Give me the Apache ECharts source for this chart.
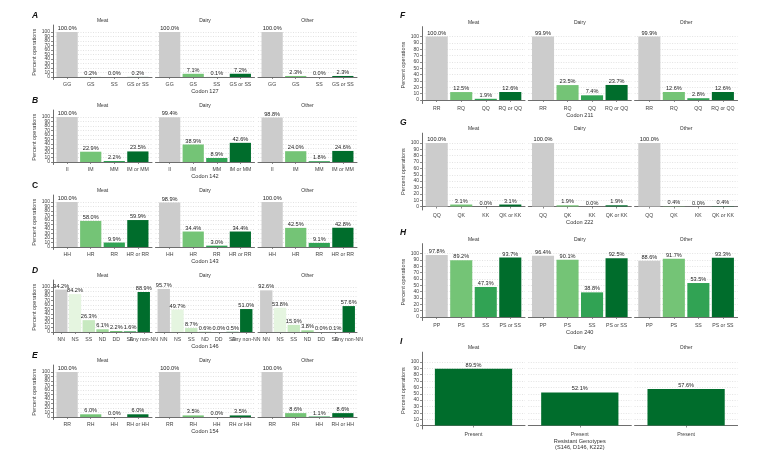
<!DOCTYPE html>
<html><head><meta charset="utf-8">
<script src="https://cdn.jsdelivr.net/npm/echarts@6/dist/echarts.min.js"></script>
<style>html,body{margin:0;padding:0;background:#fff}#c{width:781px;height:465px}</style>
</head><body><div id="c"></div>
<script>
const facets = ['Meat', 'Dairy', 'Other'];
const yTicks = [0, 10, 20, 30, 40, 50, 60, 70, 80, 90, 100];

const catsA = ['GG', 'GS', 'SS', 'GS or SS'];
const meatA = [100.0, 0.2, 0.0, 0.2];
const dairyA = [100.0, 7.1, 0.1, 7.2];
const otherA = [100.0, 2.3, 0.0, 2.3];

const catsB = ['II', 'IM', 'MM', 'IM or MM'];
const meatB = [100.0, 22.9, 2.2, 23.5];
const dairyB = [99.4, 38.9, 8.9, 42.6];
const otherB = [98.8, 24.0, 1.8, 24.6];

const catsC = ['HH', 'HR', 'RR', 'HR or RR'];
const meatC = [100.0, 58.0, 9.9, 59.9];
const dairyC = [98.9, 34.4, 3.0, 34.4];
const otherC = [100.0, 42.5, 9.1, 42.8];

const catsD = ['NN', 'NS', 'SS', 'ND', 'DD', 'SD', 'Any non-NN'];
const meatD = [94.2, 84.2, 26.3, 6.1, 2.2, 1.6, 88.9];
const dairyD = [95.7, 49.7, 8.7, 0.6, 0.0, 0.5, 51.0];
const otherD = [92.6, 53.8, 15.9, 3.8, 0.0, 0.1, 57.6];

const catsE = ['RR', 'RH', 'HH', 'RH or HH'];
const meatE = [100.0, 6.0, 0.0, 6.0];
const dairyE = [100.0, 3.5, 0.0, 3.5];
const otherE = [100.0, 8.6, 1.1, 8.6];

const catsF = ['RR', 'RQ', 'QQ', 'RQ or QQ'];
const meatF = [100.0, 12.5, 1.9, 12.6];
const dairyF = [99.9, 23.5, 7.4, 23.7];
const otherF = [99.9, 12.6, 2.8, 12.6];

const catsG = ['QQ', 'QK', 'KK', 'QK or KK'];
const meatG = [100.0, 3.1, 0.0, 3.1];
const dairyG = [100.0, 1.9, 0.0, 1.9];
const otherG = [100.0, 0.4, 0.0, 0.4];

const catsH = ['PP', 'PS', 'SS', 'PS or SS'];
const meatH = [97.8, 89.2, 47.3, 93.7];
const dairyH = [96.4, 90.1, 38.8, 92.5];
const otherH = [88.6, 91.7, 53.5, 93.3];

const catsI = ['Present'];
const meatI = [89.5];
const dairyI = [52.1];
const otherI = [57.6];

const colors4 = ['#cccccc', '#74c476', '#31a354', '#006d2c'];
const colorsD = ['#cccccc', '#e5f5e0', '#c7e9c0', '#a1d99b', '#74c476', '#41ab5d', '#006d2c'];
const colorsI = ['#006d2c'];

const panels = [
  {letter: 'A', italic: true, col: 0, y100: 32, cats: catsA, vals: [meatA, dairyA, otherA], colors: colors4, title: 'Codon 127'},
  {letter: 'B', italic: true, col: 0, y100: 117, cats: catsB, vals: [meatB, dairyB, otherB], colors: colors4, title: 'Codon 142'},
  {letter: 'C', italic: false, col: 0, y100: 202, cats: catsC, vals: [meatC, dairyC, otherC], colors: colors4, title: 'Codon 143'},
  {letter: 'D', italic: true, col: 0, y100: 287, cats: catsD, vals: [meatD, dairyD, otherD], colors: colorsD, title: 'Codon 146'},
  {letter: 'E', italic: true, col: 0, y100: 372, cats: catsE, vals: [meatE, dairyE, otherE], colors: colors4, title: 'Codon 154'},
  {letter: 'F', italic: true, col: 1, y100: 36.5, cats: catsF, vals: [meatF, dairyF, otherF], colors: colors4, title: 'Codon 211'},
  {letter: 'G', italic: true, col: 1, y100: 143, cats: catsG, vals: [meatG, dairyG, otherG], colors: colors4, title: 'Codon 222'},
  {letter: 'H', italic: true, col: 1, y100: 253.5, cats: catsH, vals: [meatH, dairyH, otherH], colors: colors4, title: 'Codon 240'},
  {letter: 'I', italic: true, col: 1, y100: 362, cats: catsI, vals: [meatI, dairyI, otherI], colors: colorsI, title: 'Resistant Genotypes\n(S146, D146, K222)'}
];

const cols = [
  {x0: 53, w: 99, gap: 3.5, s: 0.45, letterX: 35, letterDy: 16, stripDy: 11, lblMargin: 2.5, nameGap: 7.5, yNameGap: 13},
  {x0: 422, w: 103, gap: 3.3, s: 0.635, letterX: 403, letterDy: 20, stripDy: 14, lblMargin: 3, nameGap: 9, yNameGap: 13}
];

const YMIN = -5.5, YMAX = 115.5;
const FONT = '"Liberation Sans", Arial, sans-serif';
const AX = '#6e6e6e';
const evenTicks = yTicks.filter((_, i) => i % 2 === 0);
const oddTicks = yTicks.filter((_, i) => i % 2 === 1);

const grid = [], xAxis = [], yAxis = [], series = [], graphic = [];
let gi = 0;
panels.forEach(p => {
  const c = cols[p.col];
  const n = p.cats.length;
  const top = p.y100 - (YMAX - 100) * c.s;
  const height = (YMAX - YMIN) * c.s;
  const bw = 0.9 * c.w / (n + 0.2);
  const xs = p.cats.map((_, i) => i + 1);
  const xsA = xs.filter(v => v % 2 === 1);
  const xsB = xs.filter(v => v % 2 === 0);
  graphic.push({type: 'text', left: c.letterX - 3, top: p.y100 - c.letterDy - 5,
    style: {text: p.letter, font: (p.italic ? 'italic ' : '') + 'bold 8.5px ' + FONT, fill: '#111'}});
  facets.forEach((fname, f) => {
    const left = c.x0 + f * (c.w + c.gap);
    grid.push({left: left, top: top, width: c.w, height: height, containLabel: false});
    graphic.push({type: 'text', x: left + c.w / 2, y: p.y100 - c.stripDy,
      style: {text: fname, font: '5px ' + FONT, fill: '#333', align: 'center', verticalAlign: 'middle'}});
    const xLabel = (vals) => ({show: true, customValues: vals, margin: c.lblMargin, fontSize: 5.2, fontFamily: FONT,
      color: '#444', hideOverlap: false, showMinLabel: true, showMaxLabel: true,
      formatter: v => p.cats[Math.round(v) - 1]});
    const xMain = xAxis.length;
    xAxis.push({
      gridIndex: gi, type: 'value', min: 0.4, max: n + 0.6, position: 'bottom',
      axisLine: {show: true, lineStyle: {color: AX, width: 1}},
      axisTick: {show: true, customValues: xs, length: 2, lineStyle: {color: AX, width: 0.8}},
      axisLabel: xLabel(xsA),
      splitLine: {show: false},
      name: f === 1 ? p.title : '', nameLocation: 'middle', nameGap: c.nameGap,
      nameTextStyle: {fontSize: 5.6, fontFamily: FONT, color: '#333', lineHeight: 6.5}
    });
    if (xsB.length) {
      xAxis.push({
        gridIndex: gi, type: 'value', min: 0.4, max: n + 0.6, position: 'bottom',
        axisLine: {show: false}, axisTick: {show: false}, splitLine: {show: false},
        axisLabel: xLabel(xsB)
      });
    }
    const yMain = yAxis.length;
    yAxis.push({
      gridIndex: gi, type: 'value', min: YMIN, max: YMAX, position: 'left',
      axisLine: {show: f === 0, lineStyle: {color: AX, width: 1}},
      axisTick: {show: f === 0, customValues: yTicks, length: 2, lineStyle: {color: AX, width: 0.8}},
      axisLabel: {show: f === 0, customValues: evenTicks, margin: 3, fontSize: 5, fontFamily: FONT, color: '#444',
        hideOverlap: false, showMinLabel: true, showMaxLabel: true},
      splitLine: {show: true, lineStyle: {color: '#d0d0d0', width: 0.6, type: [1, 1.5]}},
      name: f === 0 ? 'Percent operations' : '', nameLocation: 'middle', nameGap: c.yNameGap, nameRotate: 90,
      nameTextStyle: {fontSize: 5.6, fontFamily: FONT, color: '#333'}
    });
    if (f === 0) {
      yAxis.push({
        gridIndex: gi, type: 'value', min: YMIN, max: YMAX, position: 'left',
        axisLine: {show: false}, axisTick: {show: false}, splitLine: {show: false},
        axisLabel: {show: true, customValues: oddTicks, margin: 3, fontSize: 5, fontFamily: FONT, color: '#444',
          hideOverlap: false, showMinLabel: true, showMaxLabel: true}
      });
    }
    series.push({
      type: 'bar', xAxisIndex: xMain, yAxisIndex: yMain, barWidth: bw,
      data: p.vals[f].map((v, i) => ({value: [i + 1, v], itemStyle: {color: p.colors[i]}})),
      label: {show: true, position: 'top', distance: 0.5, fontSize: 5.6, fontFamily: FONT, color: '#222',
        formatter: q => q.value[1].toFixed(1) + '%'},
      labelLayout: {hideOverlap: false},
      silent: true, animation: false
    });
    gi++;
  });
});

const chart = echarts.init(document.getElementById('c'), null, {renderer: 'canvas'});
chart.setOption({
  backgroundColor: '#fff', animation: false,
  grid, xAxis, yAxis, series, graphic
});
</script></body></html>
